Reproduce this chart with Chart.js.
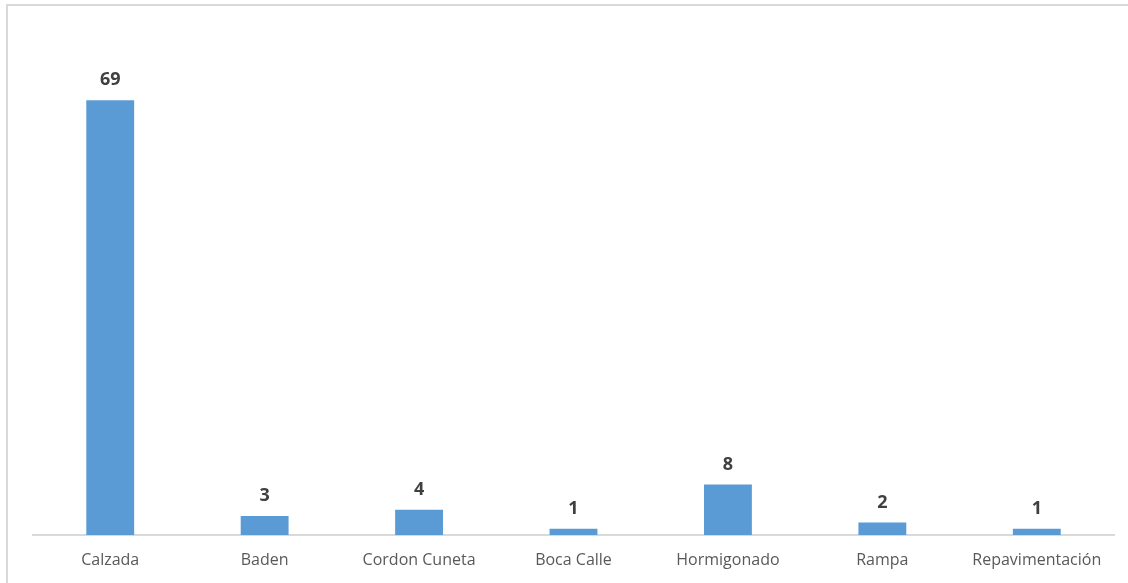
<!DOCTYPE html>
<html>
<head>
<meta charset="utf-8">
<script src="https://cdn.jsdelivr.net/npm/chart.js@4"></script>
<style>
  html, body { margin: 0; padding: 0; background: #fff; overflow: hidden; }
  #frame {
    position: absolute; left: 6px; top: 4px; width: 1140px; height: 600px;
    border: 2px solid #d9d9d9; box-sizing: border-box;
  }
  #wrap { position: absolute; left: 0; top: 0; width: 1128px; height: 583px; }
</style>
</head>
<body>
<div id="frame"></div>
<div id="wrap"><canvas id="myChart" width="1128" height="583"></canvas></div>
<script>
const categories = ['Calzada', 'Baden', 'Cordon Cuneta', 'Boca Calle', 'Hormigonado', 'Rampa', 'Repavimentación'];
const values = [69, 3, 4, 1, 8, 2, 1];
const yMax = 80;

// draws the bold value above each bar
const valueLabels = {
    id: 'valueLabels',
    afterDatasetsDraw(chart) {
        const c = chart.ctx;
        const meta = chart.getDatasetMeta(0);
        c.save();
        c.font = 'bold 18px "Open Sans"';
        c.fillStyle = '#404040';
        c.textAlign = 'center';
        c.textBaseline = 'bottom';
        meta.data.forEach((bar, i) => {
            c.fillText(values[i], bar.x, bar.y - 11);
        });
        c.restore();
    }
};

const ctx = document.getElementById('myChart');
new Chart(ctx, {
    type: 'bar',
    data: {
        labels: categories,
        datasets: [{
            data: values,
            backgroundColor: '#5B9BD5',
            borderWidth: 0,
            categoryPercentage: 1,
            barPercentage: 0.31
        }]
    },
    options: {
        responsive: false,
        animation: false,
        layout: { padding: { left: 33, right: 14, top: 31, bottom: 0 } },
        scales: {
            y: { display: false, min: 0, max: yMax },
            x: {
                grid: { display: false, drawTicks: false },
                border: { display: true, color: '#d9d9d9', width: 2 },
                ticks: {
                    color: '#595959',
                    padding: 16,
                    maxRotation: 0,
                    autoSkip: false,
                    font: { size: 16, family: 'Open Sans' }
                },
                afterFit(axis) { axis.height = 48; }
            }
        },
        plugins: {
            legend: { display: false },
            tooltip: { enabled: false }
        }
    },
    plugins: [valueLabels]
});
</script>
</body>
</html>
